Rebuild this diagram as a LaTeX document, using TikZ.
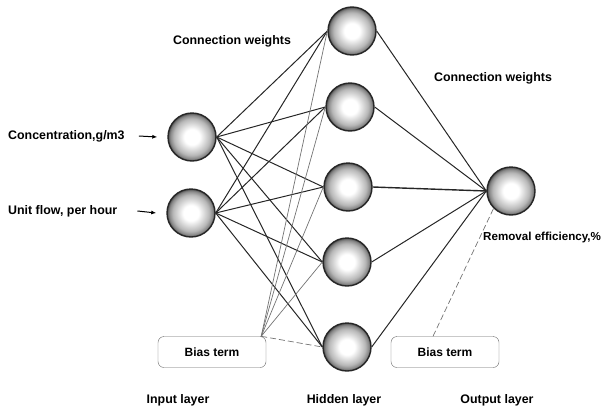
\documentclass[tikz,border=0pt]{standalone}
\usepackage{fontspec}
\setmainfont{Liberation Sans}
\usetikzlibrary{arrows.meta}
\pgfdeclareradialshading{neuronball}{\pgfpoint{0bp}{0bp}}{color(0bp)=(white); color(8bp)=(white); color(19bp)=(black!28); color(23bp)=(black!48); color(25bp)=(black!70); color(50bp)=(black!70)}

\begin{document}
\begin{tikzpicture}[x=1pt, y=-1pt,
		neuron/.style={circle, minimum size=48pt, inner sep=0pt, draw=black!85, line width=1.4pt, shading=neuronball},
		wgt/.style={black!85, line width=1pt},
		biasln/.style={black!55, line width=0.7pt},
		biasbox/.style={draw=black!60, rounded corners=6pt, minimum width=108pt, minimum height=31pt, font=\bfseries\fontsize{12}{14}\selectfont},
		lbl/.style={inner sep=0pt, font=\bfseries\fontsize{12.4}{14}\selectfont},
		inarr/.style={-{Latex[length=5pt,width=4pt]}, line width=1pt}]
		\useasboundingbox (0,0) rectangle (607,407);
		% neurons
		\node[neuron] (i1) at (192,137) {};
		\node[neuron] (i2) at (191,213) {};
		\node[neuron] (h1) at (352,31) {};
		\node[neuron] (h2) at (350,107) {};
		\node[neuron] (h3) at (348,187) {};
		\node[neuron] (h4) at (347,262) {};
		\node[neuron] (h5) at (347,347) {};
		\node[neuron] (out) at (511,191) {};
		% bias terms
		\node[biasbox] (biasin) at (212,352) {Bias term};
		\node[biasbox] (biasout) at (445,352) {Bias term};
		\coordinate (bsrc) at ([xshift=-5pt]biasin.north east);
		% labels
		\node[lbl, anchor=west] (conc) at (8,136) {Concentration,g/m3};
		\node[lbl, anchor=west] (flow) at (8,211) {Unit flow, per hour};
		\node[lbl, anchor=west, font=\bfseries\fontsize{11.6}{14}\selectfont] (remov) at (483,237) {Removal efficiency,\%};
		\node[lbl] (cw1) at (232,41) {Connection weights};
		\node[lbl] (cw2) at (493,78) {Connection weights};
		\node[lbl] (inl) at (178,400) {Input layer};
		\node[lbl] (hidl) at (344,400) {Hidden layer};
		\node[lbl] (outl) at (497,400) {Output layer};
		% inputs
		\draw[inarr] ([xshift=14pt]conc.east) -- ([xshift=-10pt]i1.west);
		\draw[inarr] ([xshift=20pt]flow.east) -- ([xshift=-10pt]i2.west);
		% weights
		\foreach \i in {i1,i2}
			\foreach \h in {h1,h2,h3,h4,h5}
				\draw[wgt] (\i.east) -- (\h.west);
		\foreach \h in {h1,h2,h4,h5}
			\draw[wgt] (\h.east) -- (out.west);
		\draw[wgt, line width=1.4pt] (h3.east) -- (out.west);
		\foreach \h in {h1,h2,h3,h4}
			\draw[biasln] (bsrc) -- (\h.west);
		\draw[biasln, dash pattern=on 6pt off 3pt] (bsrc) -- (h5.west);
		\draw[biasln, dash pattern=on 6pt off 3pt] ([xshift=-12pt]biasout.north) -- (out.south west);
	\end{tikzpicture}
\end{document}
